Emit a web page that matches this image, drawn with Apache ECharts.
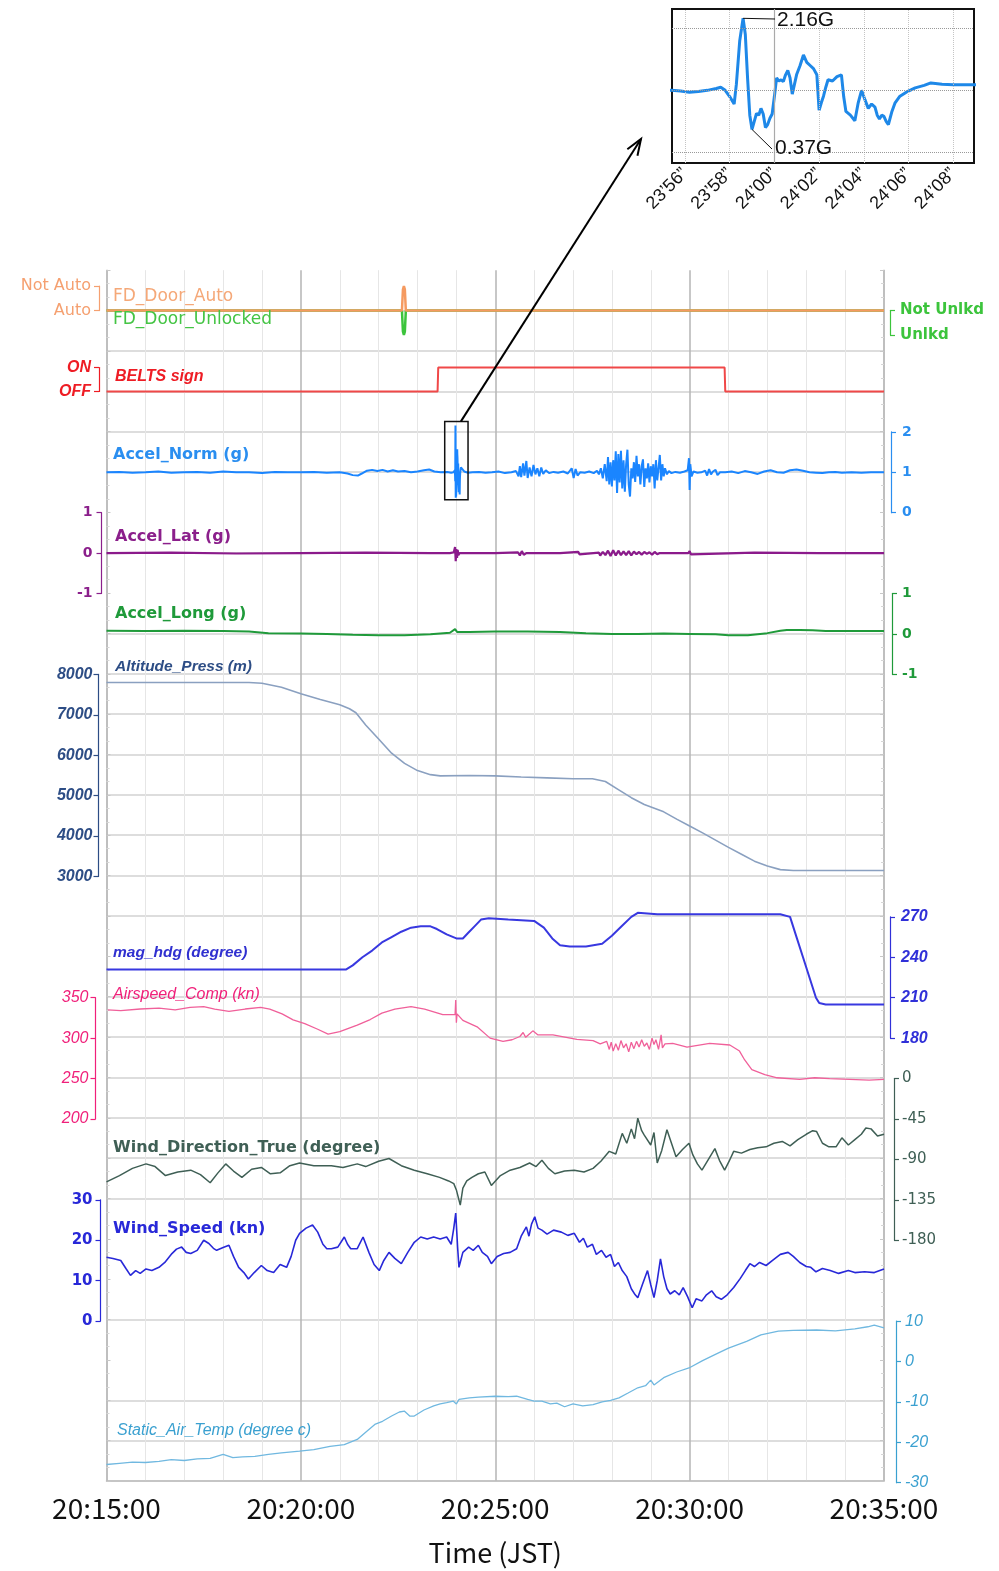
<!DOCTYPE html>
<html><head><meta charset="utf-8">
<script src="https://cdn.jsdelivr.net/npm/echarts@6/dist/echarts.min.js"></script>
<style>html,body{margin:0;padding:0;background:#fff}#c{width:999px;height:1571px}</style>
</head><body><div id="c"></div>
<script>
// ---------------- DATA (time in seconds after 20:15:00) ----------------
const xTickValues = [0, 300, 600, 900, 1200];
const xTickLabels = ['20:15:00', '20:20:00', '20:25:00', '20:30:00', '20:35:00'];
const fdAutoLabels = ['Auto', 'Not Auto'];
const fdUnlockLabels = ['Unlkd', 'Not Unlkd'];
const beltsLabels = ['OFF', 'ON'];
const insetTickValues = [536, 538, 540, 542, 544, 546, 548];
const insetTickLabels = ['23\u201956\u201D', '23\u201958\u201D', '24\u201900\u201D', '24\u201902\u201D', '24\u201904\u201D', '24\u201906\u201D', '24\u201908\u201D'];
const insetPeak = [538.6, 2.16];
const insetValley = [539.0, 0.37];

const fdDoorAuto = [[0,0],[456,0],[457.5,0.85],[459,1],[460.5,0.85],[462,0],[1200,0]];
const fdDoorUnlocked = [[0,1],[456,1],[457.5,0.15],[459,0],[460.5,0.15],[462,1],[1200,1]];
const beltsSign = [[0,0],[511,0],[512,1],[954,1],[955,0],[1200,0]];

const accelNorm = [[0,1.0],[20,1.01],[40,0.99],[60,1.0],[80,1.02],[100,0.99],[120,1.0],[140,1.01],[160,0.99],[180,1.02],[200,1.0],[220,1.0],[240,0.98],[260,1.01],[280,1.0],[300,1.0],[320,1.01],[340,0.99],[360,1.0],[372,0.97],[380,0.93],[388,0.92],[394,0.97],[402,1.04],[410,1.06],[418,1.03],[426,1.06],[434,1.02],[442,1.05],[450,1.02],[460,1.03],[470,1.0],[480,1.02],[490,1.05],[498,1.07],[506,1.02],[516,1.0],[526,1.01],[532,0.99],
[535.4,1.0],[535.8,0.99],[536.2,0.97],[536.6,0.98],[537.0,1.0],[537.4,1.03],[537.6,1.05],[537.8,1.0],[538.0,0.9],[538.2,0.78],[538.3,1.1],[538.45,1.8],[538.6,2.16],[538.7,1.9],[538.8,1.2],[538.9,0.6],[539.0,0.37],[539.1,0.5],[539.2,0.63],[539.3,0.6],[539.4,0.71],[539.5,0.62],[539.6,0.40],[539.7,0.45],[539.8,0.55],[539.9,0.62],[540.0,0.9],[540.1,1.20],[540.2,1.15],[540.3,1.17],[540.4,1.14],[540.5,1.25],[540.6,1.32],[540.7,1.2],[540.8,0.94],[540.9,1.1],[541.0,1.26],[541.15,1.4],[541.3,1.57],[541.45,1.45],[541.6,1.40],[541.75,1.35],[541.9,1.25],[542.0,0.68],[542.1,0.8],[542.2,0.91],[542.3,1.05],[542.4,1.17],[542.6,1.15],[542.8,1.22],[543.0,1.25],[543.1,0.9],[543.2,0.66],[543.4,0.6],[543.6,0.51],[543.75,0.8],[543.9,1.0],[544.05,0.85],[544.2,0.71],[544.35,0.78],[544.5,0.73],[544.6,0.6],[544.7,0.54],[544.8,0.6],[544.9,0.58],[545.0,0.5],[545.1,0.45],[545.25,0.65],[545.4,0.80],[545.6,0.9],[545.9,0.97],[546.3,1.04],[546.7,1.08],[547.0,1.12],[547.5,1.1],[548.0,1.09],[549.0,1.09],
[552,1.02],[558,0.99],[565,1.0],[575,1.01],[585,0.99],[595,1.0],[605,1.02],[615,0.98],[625,1.0],[632,1.03],[636,0.9],[638,1.15],[640,0.88],[643,1.22],[645,0.92],[648,1.28],[650,0.86],[653,1.12],[656,0.9],[659,1.18],[662,0.95],[665,1.1],[668,0.9],[671,1.12],[674,0.96],[678,1.05],[683,0.98],[690,1.01],[697,0.99],[705,1.02],[712,0.97],[718,1.1],[721,0.86],[724,1.08],[727,0.92],[731,1.0],[738,0.99],[745,1.02],[752,0.98],[757,1.04],[760,0.95],[763,1.1],[766,0.85],[769,1.2],[772,0.78],[774,1.38],[776,0.7],[778,1.25],[780,0.65],[782,1.3],[784,0.8],[786,1.52],[788,0.49],[790,1.45],[792,0.75],[794,1.53],[796,0.6],[798,1.3],[800,0.52],[802,1.2],[804,1.56],[806,0.7],[808,0.4],[810,1.1],[812,0.85],[814,1.25],[816,0.76],[818,1.41],[820,0.9],[822,1.2],[824,0.7],[826,1.15],[828,1.32],[830,0.64],[832,1.1],[834,0.85],[836,1.22],[838,0.75],[840,1.15],[842,0.9],[844,1.2],[846,0.6],[848,1.3],[850,0.8],[852,1.1],[854,1.43],[856,0.8],[858,1.2],[860,0.9],[862,1.1],[865,0.95],[868,1.03],[872,0.98],[878,1.01],[885,0.99],[892,1.02],[897,1.05],[899,1.35],[900,0.56],[901,1.2],[903,0.9],[906,1.02],[912,0.99],[918,1.0],[924,1.04],[927,0.92],[930,1.08],[933,0.95],[936,1.02],[940,1.06],[943,0.93],[947,1.0],[955,1.0],[965,1.02],[975,0.98],[985,1.03],[995,1.0],[1005,0.96],[1015,1.02],[1025,1.05],[1035,1.0],[1045,0.99],[1055,1.05],[1065,1.07],[1075,1.04],[1085,1.0],[1095,0.99],[1105,0.98],[1115,1.0],[1125,1.01],[1135,0.99],[1150,1.0],[1165,0.99],[1180,1.0],[1200,1.0]];

const accelLat = [[0,0],[100,0.01],[200,-0.01],[300,0],[400,0.01],[500,0],[530,0],[536,0.02],[538,0.15],[539,-0.2],[540,0.1],[541,-0.12],[542,0.08],[543,-0.05],[545,0],[600,0],[635,0.02],[638,-0.06],[641,0.05],[644,-0.04],[648,0],[700,0],[728,0.03],[730,-0.03],[733,0],[760,0.01],[762,-0.06],[766,0.03],[770,-0.05],[774,0.06],[778,-0.07],[782,0.07],[786,-0.06],[790,0.06],[794,-0.05],[798,0.04],[802,-0.05],[806,0.05],[810,-0.06],[814,0.04],[818,-0.03],[822,0.03],[826,-0.04],[830,0.03],[834,-0.02],[838,0.02],[842,-0.04],[846,0.03],[850,-0.03],[854,0],[898,0],[900,0.05],[902,-0.03],[905,0],[1000,0.01],[1100,0],[1200,0]];

const accelLong = [[0,0.08],[60,0.07],[120,0.08],[180,0.07],[220,0.06],[250,0.02],[300,0.01],[340,0.0],[380,-0.02],[420,-0.03],[460,-0.03],[500,-0.01],[530,0.03],[538,0.12],[541,0.05],[560,0.05],[600,0.06],[650,0.06],[700,0.05],[740,0.02],[780,0.0],[820,0.0],[860,0.01],[900,0.0],[940,-0.01],[960,-0.03],[990,-0.03],[1020,0.02],[1040,0.08],[1050,0.1],[1070,0.1],[1090,0.09],[1110,0.07],[1140,0.07],[1200,0.07]];

const altitudePress = [[0,7800],[220,7800],[240,7780],[270,7680],[300,7520],[330,7380],[360,7250],[375,7150],[385,7050],[400,6750],[420,6400],[440,6050],[460,5800],[480,5620],[500,5520],[515,5490],[560,5500],[600,5490],[640,5460],[680,5440],[720,5420],[750,5420],[770,5350],[790,5150],[810,4950],[830,4780],[860,4600],[880,4420],[900,4250],[920,4080],[940,3900],[960,3720],[980,3550],[1000,3380],[1020,3260],[1040,3170],[1060,3150],[1200,3150]];

const magHdg = [[0,231],[370,231],[380,234],[395,240],[410,245],[425,251],[440,255],[455,259],[470,262],[485,263],[500,263],[510,261],[525,257],[540,254],[550,254],[558,258],[568,263],[578,268],[590,269],[620,268],[660,267],[675,262],[688,254],[700,249],[715,248],[740,248],[765,250],[780,256],[795,263],[810,270],[820,273],[850,272],[900,272],[960,272],[1000,272],[1040,272],[1055,270],[1065,255],[1075,240],[1085,225],[1095,210],[1100,206],[1110,205],[1200,205]];

const airspeedComp = [[2,335],[22,334],[52,336],[81,337],[106,335],[129,338],[150,339],[167,336],[189,333],[214,336],[238,338],[252,336],[271,330],[288,322.5],[306,318],[326,311],[342,305],[360,308],[387,316],[407,323],[425,331],[445,336],[470,339],[491,336],[519,329],[538,329],[539,347],[540,319],[541,330],[550,322],[572,314],[592,300],[612,296],[626,298],[638,302],[643,307],[647,301],[654,306],[658,309],[666,304],[689,304],[726,298.5],[751,297],[762,293],[772,296],[776,286],[779,295],[782,284],[786,293],[790,285],[794,297],[798,288],[802,293],[806,283],[810,295],[814,287],[818,296],[822,289],[826,298],[830,290],[834,294],[838,286],[842,300],[845,292],[848,298],[852,286],[856,304],[858,288],[862,293],[874,293.5],[896,289],[931,293.5],[962,291.5],[977,284],[985,273],[996,261],[1016,255],[1035,251],[1070,249],[1093,251],[1116,250],[1147,249],[1177,248],[1200,249]];

const windDirection = [[0,-115],[20,-108],[40,-100],[61,-95],[75,-98],[91,-108],[110,-104],[130,-102],[145,-107],[160,-116],[172,-105],[184,-95],[196,-103],[209,-110],[224,-101],[239,-99],[253,-106],[268,-105],[283,-97],[298,-94],[320,-97],[347,-97],[365,-99],[387,-95],[400,-98],[420,-92],[436,-89],[455,-97],[475,-102],[495,-106],[514,-110],[528,-114],[536,-117],[540,-124],[546,-141],[550,-122],[556,-114],[564,-110],[574,-106],[584,-104],[594,-119],[608,-108],[623,-102],[638,-99],[653,-94],[663,-98],[672,-91],[682,-100],[692,-106],[707,-103],[722,-102],[737,-104],[751,-100],[763,-92],[776,-81],[786,-84],[796,-61],[803,-72],[810,-56],[815,-67],[820,-44],[826,-58],[830,-63],[840,-74],[845,-60],[850,-94],[857,-80],[865,-57],[872,-72],[879,-87],[889,-79],[899,-72],[905,-85],[912,-95],[919,-102],[929,-90],[939,-78],[946,-91],[954,-102],[961,-92],[968,-81],[980,-83],[993,-79],[1005,-77],[1018,-76],[1030,-72],[1043,-70],[1055,-75],[1067,-68],[1080,-62],[1090,-58],[1096,-59],[1105,-72],[1115,-76],[1126,-76],[1135,-66],[1145,-74],[1155,-68],[1165,-62],[1172,-55],[1180,-56],[1190,-64],[1200,-62]];

const windSpeed = [[0,15.8],[10,15.5],[22,15],[30,13],[37,11.3],[45,12.5],[52,11.8],[61,12.9],[70,12.5],[81,13.3],[90,14.5],[101,16.7],[108,17.8],[116,18.3],[123,17],[130,16.7],[140,17.5],[150,20],[158,19.2],[165,18],[170,17.5],[180,18.2],[189,18.75],[196,16],[204,13.3],[212,12],[219,10.4],[228,12],[239,13.75],[248,12.5],[258,12],[268,14],[278,13.3],[285,16],[292,20],[298,21.7],[308,23],[318,23.75],[326,22],[334,19],[340,17.9],[347,17.9],[357,18.3],[367,20.8],[372,19],[377,17.9],[387,17.9],[396,20.8],[405,17],[413,14],[421,12.5],[428,15],[436,17],[445,15.5],[455,14.2],[465,17],[475,19.5],[485,20.8],[495,20.3],[505,20.8],[515,20.3],[525,20.8],[532,19],[536,23],[539,26.7],[542,18],[544,13.3],[550,17],[559,18.3],[566,17.5],[574,18.75],[580,17],[588,16],[594,14.2],[603,16],[613,16.7],[623,17],[633,17.9],[640,21],[648,23.3],[652,21],[656,24],[661,25.8],[666,23],[672,22.5],[680,21.5],[690,22.5],[702,22],[712,21.2],[722,21.7],[730,19.5],[736,20.5],[742,18.3],[750,19],[756,16.5],[764,17.5],[771,15.8],[778,16.5],[784,13.5],[790,14.5],[796,12.5],[803,11],[810,8],[816,6.5],[820,5.8],[827,9],[835,12.5],[840,9],[845,5.8],[850,10],[855,15.4],[860,11],[865,8],[870,6.7],[877,7.5],[884,6.5],[890,8.3],[897,6],[904,3.3],[910,5.5],[919,5],[926,6.5],[934,7.5],[941,6],[949,5.4],[958,6.5],[968,8.3],[978,10.5],[986,12.5],[993,14.2],[1000,13.5],[1008,14.5],[1018,13.75],[1028,15],[1040,16.5],[1052,17],[1060,16],[1070,14.5],[1080,13.5],[1087,13.3],[1095,12.2],[1105,13],[1117,12.5],[1130,11.8],[1145,12.5],[1155,12],[1170,12.2],[1185,12],[1200,12.9]];

const staticAirTemp = [[0,-25.5],[20,-25.2],[40,-24.9],[60,-25],[81,-24.7],[100,-24.3],[120,-24.5],[140,-24.1],[160,-24],[180,-23],[195,-23.8],[210,-23.6],[229,-23.5],[250,-23],[270,-22.6],[298,-22.2],[320,-21.8],[345,-21],[367,-20.6],[387,-19.3],[400,-17.5],[415,-15.5],[426,-14.8],[440,-13.5],[452,-12.5],[460,-12.3],[468,-13.5],[475,-13.5],[490,-12],[505,-11],[515,-10.5],[525,-10.2],[535,-9.8],[540,-10.5],[544,-9.4],[560,-9],[574,-8.8],[600,-8.6],[620,-8.7],[633,-8.6],[650,-9.4],[660,-9.8],[672,-9.8],[685,-10.5],[695,-10.3],[707,-11.2],[720,-10.5],[735,-11],[751,-10.7],[765,-10],[778,-9.6],[791,-9],[805,-7.8],[820,-6.5],[832,-6],[840,-4.6],[845,-5.8],[860,-4],[880,-2.6],[899,-1.6],[920,0.2],[939,1.7],[960,3.3],[988,5],[1010,6.6],[1037,7.5],[1060,7.7],[1096,7.8],[1125,7.6],[1155,8.1],[1175,8.6],[1185,9],[1200,8.3]];

// ---------------- LAYOUT ----------------
const L = 106.5, R = 115;
const DV = 'DejaVu Sans', LS = 'Liberation Sans';
const num = v => String(v);
const panels = [
  {top:286,   h:24.6,  pos:'left',  min:0, max:1, iv:1, color:'#f5a070', off:7.5, mg:8, fmt:v=>fdAutoLabels[v] || '', font:{fontFamily:DV, fontSize:16}},
  {top:310.6, h:24.4,  pos:'right', min:0, max:1, iv:1, color:'#3cc43c', off:6, mg:10, fmt:v=>fdUnlockLabels[v] || '', font:{fontFamily:DV, fontSize:15, fontWeight:'bold'}},
  {top:367.5, h:24,    pos:'left',  min:0, max:1, iv:1, color:'#ee1c24', off:7.5, mg:8, fmt:v=>beltsLabels[v] || '', font:{fontFamily:LS, fontSize:16, fontWeight:'bold', fontStyle:'italic'}},
  {top:431.9, h:80.8,  pos:'right', min:0, max:2, iv:1, color:'#2a8ef0', off:7, mg:11, font:{fontFamily:DV, fontSize:14, fontWeight:'bold'}},
  {top:512.7, h:80.8,  pos:'left',  min:-1, max:1, iv:1, color:'#8b1f8b', off:5, mg:9, font:{fontFamily:DV, fontSize:14, fontWeight:'bold'}},
  {top:593.5, h:80.9,  pos:'right', min:-1, max:1, iv:1, color:'#1f9a3a', off:8, mg:10, font:{fontFamily:DV, fontSize:14, fontWeight:'bold'}},
  {top:674.4, h:202.1, pos:'left',  min:3000, max:8000, iv:1000, color:'#2d4d85', off:8, mg:6, font:{fontFamily:LS, fontSize:16, fontWeight:'bold', fontStyle:'italic'}},
  {top:916.9, h:121.2, pos:'right', min:180, max:270, iv:30, color:'#3030d8', off:6, mg:11, font:{fontFamily:LS, fontSize:16, fontWeight:'bold', fontStyle:'italic'}},
  {top:997.7, h:121.3, pos:'left',  min:200, max:350, iv:50, color:'#f0207a', off:11, mg:7, font:{fontFamily:LS, fontSize:16, fontStyle:'italic'}},
  {top:1078.6,h:161.6, pos:'right', min:-180, max:0, iv:45, color:'#3f5f55', off:10, mg:8, font:{fontFamily:DV, fontSize:15}},
  {top:1199.8,h:121.3, pos:'left',  min:0, max:30, iv:10, color:'#2828d8', off:6, mg:8, font:{fontFamily:DV, fontSize:15, fontWeight:'bold'}},
  {top:1321.1,h:161.6, pos:'right', min:-30, max:10, iv:10, color:'#3aa0d0', off:12, mg:9, font:{fontFamily:LS, fontSize:16, fontStyle:'italic'}}
];

const grids = [{left:L, right:R, top:270.2, height:1212.5}];
const xAxes = [{
  type:'value', gridIndex:0, min:0, max:1200, interval:300,
  axisLine:{show:true, onZero:false, lineStyle:{color:'#bdbdbd', width:1.5}},
  axisTick:{show:false},
  axisLabel:{show:true, margin:13, color:'#111', fontFamily:'Noto Sans CJK JP', fontSize:28,
    formatter:v=>xTickLabels[xTickValues.indexOf(v)] || ''},
  splitLine:{show:true, lineStyle:{color:'#b4b4b4', width:1.5}},
  minorTick:{show:false, splitNumber:5},
  minorSplitLine:{show:true, lineStyle:{color:'#e6e6e6', width:1}},
  name:'Time (JST)', nameLocation:'middle', nameGap:58,
  nameTextStyle:{color:'#111', fontFamily:'Noto Sans CJK JP', fontSize:27}
}];
// horizontal grid lines, indexed from the bottom (0) to the top (30); hidden where the reference shows none
const hiddenRows = [3, 5, 6, 13, 22, 24, 30];
const hColors = Array.from({length:31}, (_, i) => hiddenRows.includes(i) ? 'rgba(0,0,0,0)' : '#d2d2d2');
const borderTicks = {show:true, inside:true, length:4, lineStyle:{color:'#c8c8c8', width:1}};
const borderMinor = {show:true, splitNumber:3, length:3, lineStyle:{color:'#d6d6d6', width:1}};
const yAxes = [
  {type:'value', gridIndex:0, min:0, max:30, interval:1, axisLabel:{show:false}, axisTick:borderTicks, minorTick:borderMinor,
   axisLine:{show:true, onZero:false, lineStyle:{color:'#bdbdbd', width:1.5}},
   splitLine:{show:true, lineStyle:{color:hColors, width:1.5}}},
  {type:'value', gridIndex:0, position:'right', min:0, max:30, interval:1, axisLabel:{show:false}, axisTick:borderTicks, minorTick:borderMinor,
   axisLine:{show:true, onZero:false, lineStyle:{color:'#bdbdbd', width:1.5}}, splitLine:{show:false}}
];
panels.forEach((p, i) => {
  const gi = i + 1;
  grids.push({left:L, right:R, top:p.top, height:p.h});
  xAxes.push({type:'value', gridIndex:gi, min:0, max:1200, show:false});
  yAxes.push({
    type:'value', gridIndex:gi, position:p.pos, offset:p.off, min:p.min, max:p.max, interval:p.iv,
    axisLine:{show:true, onZero:false, lineStyle:{color:p.color, width:1.2}},
    axisTick:{show:true, length:5, lineStyle:{color:p.color, width:1.2}},
    axisLabel:Object.assign({show:true, color:p.color, margin:p.mg, formatter:p.fmt || num}, p.font),
    splitLine:{show:false}
  });
});
// inset grid (index 13)
grids.push({left:672, top:9, width:302, height:154, show:true, borderColor:'#111', borderWidth:2, backgroundColor:'#fff'});
xAxes.push({type:'value', gridIndex:13, min:535.42, max:548.93,
  axisLine:{show:false, onZero:false}, axisTick:{show:false}, splitLine:{show:false},
  axisLabel:{show:true, customValues:insetTickValues, rotate:45, margin:8, color:'#111', fontFamily:LS, fontSize:18,
    formatter:v=>insetTickLabels[insetTickValues.indexOf(v)] || ''}});
yAxes.push({type:'value', gridIndex:13, min:-0.17, max:2.31, show:false});

function line(data, gi, color, width, extra) {
  return Object.assign({type:'line', data, xAxisIndex:gi, yAxisIndex:gi + 1, showSymbol:false, symbol:'none',
    lineStyle:{color, width}, itemStyle:{color}, clip:false, animation:false, z:3}, extra || {});
}

const series = [
  line(fdDoorUnlocked, 2, '#3cc43c', 2.5),
  line(fdDoorAuto, 1, '#f59a60', 2.5),
  line(beltsSign, 3, '#f04848', 2),
  line(accelNorm, 4, '#1a85ff', 2),
  line(accelLat, 5, '#8b1a8b', 2.2),
  line(accelLong, 6, '#1f9a3a', 2),
  line(altitudePress, 7, '#8aa0c0', 1.6),
  line(magHdg, 8, '#3838e0', 2),
  line(airspeedComp, 9, '#f0609a', 1.3),
  line(windDirection, 10, '#3f5f55', 1.5),
  line(windSpeed, 11, '#2828d8', 1.6),
  line(staticAirTemp, 12, '#70b8e0', 1.3),
  {type:'line', data:accelNorm, xAxisIndex:13, yAxisIndex:14, showSymbol:false, symbol:'none', clip:true, animation:false,
   lineStyle:{color:'#1e88e8', width:3}, z:3,
   markLine:{silent:true, symbol:'none', label:{show:false}, animation:false,
     lineStyle:{color:'#c4c4c4', type:'dotted', width:1},
     data: insetTickValues.map(v => v === 540 ? {xAxis:v, lineStyle:{color:'#aaaaaa', type:'solid', width:1.2}} : {xAxis:v})
       .concat([0, 1, 2].map(v => ({yAxis:v, lineStyle:{color:'#999', type:'dotted', width:1}})))}}
];

const titles = [
  ['FD_Door_Auto', 113, 297, '#f5a878', DV, 17, 'normal', 'normal'],
  ['FD_Door_Unlocked', 113, 320, '#44c444', DV, 17, 'normal', 'normal'],
  ['BELTS sign', 115, 377, '#ee1c24', LS, 16, 'bold', 'italic'],
  ['Accel_Norm (g)', 113, 455, '#2a8ef0', DV, 16, 'bold', 'normal'],
  ['Accel_Lat (g)', 115, 537, '#8b1f8b', DV, 16, 'bold', 'normal'],
  ['Accel_Long (g)', 115, 614, '#1f9a3a', DV, 16, 'bold', 'normal'],
  ['Altitude_Press (m)', 115, 667, '#2d4d85', LS, 15.5, 'bold', 'italic'],
  ['mag_hdg (degree)', 113, 953, '#3030d0', LS, 15.5, 'bold', 'italic'],
  ['Airspeed_Comp (kn)', 113, 995, '#f0207a', LS, 16, 'normal', 'italic'],
  ['Wind_Direction_True (degree)', 113, 1148, '#3f5f55', DV, 16, 'bold', 'normal'],
  ['Wind_Speed (kn)', 113, 1229, '#2828d8', DV, 16, 'bold', 'normal'],
  ['Static_Air_Temp (degree c)', 117, 1431, '#3aa0d0', LS, 16, 'normal', 'italic']
];

const option = {
  animation:false,
  backgroundColor:'#fff',
  grid:grids, xAxis:xAxes, yAxis:yAxes, series,
  graphic: titles.map(t => ({type:'text', z:10, style:{text:t[0], x:t[1], y:t[2], fill:t[3], fontFamily:t[4], fontSize:t[5], fontWeight:t[6], fontStyle:t[7], verticalAlign:'middle', align:'left'}}))
};
const chart = echarts.init(document.getElementById('c'), null, {renderer:'canvas'});
chart.setOption(option);

// annotations derived from axes
const b0 = chart.convertToPixel({gridIndex:4}, [522, 2.26]);
const b1 = chart.convertToPixel({gridIndex:4}, [558, 0.32]);
const aStart = chart.convertToPixel({gridIndex:4}, [547, 2.26]);
const aEnd = [641, 139];
const dx = aEnd[0] - aStart[0], dy = aEnd[1] - aStart[1], len = Math.hypot(dx, dy);
const ux = dx / len, uy = dy / len, nx = -uy, ny = ux, ah = 16, aw = 6;
const pk = chart.convertToPixel({gridIndex:13}, insetPeak);
const vl = chart.convertToPixel({gridIndex:13}, insetValley);
const extra = [
  {type:'rect', z:12, shape:{x:b0[0], y:b0[1], width:b1[0]-b0[0], height:b1[1]-b0[1]}, style:{fill:'none', stroke:'#111', lineWidth:1.5}},
  {type:'line', z:12, shape:{x1:aStart[0], y1:aStart[1], x2:aEnd[0], y2:aEnd[1]}, style:{stroke:'#000', lineWidth:2}},
  {type:'polyline', z:12, shape:{points:[[aEnd[0]-ah*ux+aw*nx, aEnd[1]-ah*uy+aw*ny], aEnd, [aEnd[0]-ah*ux-aw*nx, aEnd[1]-ah*uy-aw*ny]]}, style:{stroke:'#000', lineWidth:2, fill:'none'}},
  {type:'line', z:12, shape:{x1:pk[0], y1:pk[1], x2:775, y2:19}, style:{stroke:'#111', lineWidth:1}},
  {type:'line', z:12, shape:{x1:vl[0], y1:vl[1], x2:772, y2:149}, style:{stroke:'#111', lineWidth:1}},
  {type:'text', z:12, style:{text:'2.16G', x:777, y:20, fill:'#111', fontFamily:LS, fontSize:21, verticalAlign:'middle'}},
  {type:'text', z:12, style:{text:'0.37G', x:775, y:148, fill:'#111', fontFamily:LS, fontSize:21, verticalAlign:'middle'}}
];
chart.setOption({graphic: option.graphic.concat(extra)});
</script>
</body></html>
